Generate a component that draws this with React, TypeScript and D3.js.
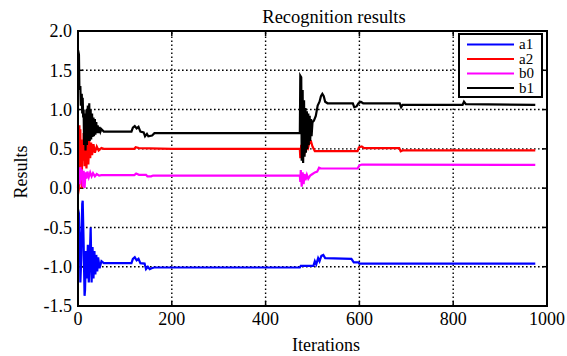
import React, { useEffect, useRef } from 'react';
import * as d3 from 'd3';

// axis ticks
const xTicks = [0, 200, 400, 600, 800, 1000];
const yTicks = [-1.5, -1.0, -0.5, 0.0, 0.5, 1.0, 1.5, 2.0];

const seriesNames = ['a1', 'a2', 'b0', 'b1'];
const seriesColors = ['#0000ff', '#ff0000', '#ff00ff', '#000000'];

// [iteration, value]
const a1Points: [number, number][] = [
  [0, -0.27], [2, -0.32], [3, -0.55], [4, -0.62], [5, -1.2], [7, -0.9], [9, -0.2], [10, -0.16],
  [12, -0.7], [14, -1.37], [15, -1.3], [17, -0.8], [19, -1.15], [21, -0.72], [23, -1.2], [25, -0.9],
  [27, -0.5], [29, -1.2], [31, -0.75], [33, -1.15], [35, -0.8], [37, -1.1], [39, -0.85], [41, -1.06],
  [43, -0.88], [46, -1.02], [50, -0.93], [55, -0.955], [114, -0.955], [117, -0.9], [121, -0.88],
  [125, -0.92], [129, -0.9], [133, -0.955], [142, -0.96], [145, -1.03], [149, -1.0], [153, -1.03],
  [157, -1.02], [162, -1.01], [473, -1.01], [475, -0.99], [502, -0.99], [505, -0.93], [508, -0.97],
  [512, -0.89], [515, -0.93], [519, -0.86], [523, -0.85], [527, -0.89], [583, -0.9], [588, -0.945],
  [598, -0.945], [600, -0.96], [975, -0.96],
];

const a2Points: [number, number][] = [
  [0, -0.08], [2, 0.0], [3, 0.8], [4, 0.05], [5, 0.75], [6, 0.1], [7, 0.62], [8, 0.0], [9, 0.5],
  [11, 0.35], [12, 0.7], [14, 0.28], [16, 0.66], [18, 0.25], [20, 0.62], [22, 0.3], [24, 0.6],
  [26, 0.38], [28, 0.58], [30, 0.42], [33, 0.56], [36, 0.45], [40, 0.53], [44, 0.48], [50, 0.51],
  [55, 0.5], [120, 0.5], [123, 0.52], [130, 0.51], [200, 0.5], [473, 0.5], [474, 0.38], [476, 0.55],
  [478, 0.42], [480, 0.5], [483, 0.45], [486, 0.52], [490, 0.5], [493, 0.57], [497, 0.59],
  [500, 0.53], [505, 0.47], [596, 0.47], [599, 0.52], [605, 0.53], [610, 0.51], [685, 0.51],
  [688, 0.47], [692, 0.48], [975, 0.48],
];

const b0Points: [number, number][] = [
  [0, 0.0], [1, 0.25], [3, 0.22], [4, 0.05], [5, 0.27], [7, 0.1], [8, 0.24], [10, 0.02], [12, 0.22],
  [14, 0.0], [16, 0.2], [18, 0.12], [20, 0.21], [23, 0.14], [26, 0.2], [29, 0.15], [32, 0.19],
  [36, 0.15], [40, 0.18], [45, 0.16], [50, 0.165], [120, 0.165], [124, 0.185], [130, 0.17],
  [145, 0.17], [148, 0.15], [156, 0.15], [160, 0.16], [473, 0.16], [474, 0.08], [475, 0.23],
  [477, 0.02], [479, 0.2], [481, 0.05], [483, 0.18], [485, 0.1], [488, 0.17], [491, 0.12],
  [495, 0.16], [500, 0.18], [505, 0.2], [510, 0.21], [514, 0.26], [518, 0.25], [596, 0.25],
  [600, 0.29], [605, 0.3], [975, 0.295],
];

const b1Points: [number, number][] = [
  [0, 1.76], [2, 1.7], [3, 1.25], [5, 1.3], [6, 1.05], [8, 1.2], [9, 0.95], [10, 1.15], [11, 0.9],
  [12, 1.0], [13, 0.55], [15, 0.95], [16, 0.48], [18, 1.0], [19, 0.55], [21, 1.05], [22, 0.6],
  [24, 1.08], [25, 0.6], [27, 1.0], [28, 0.62], [30, 0.95], [31, 0.65], [33, 0.9], [34, 0.66],
  [36, 0.88], [37, 0.68], [39, 0.84], [40, 0.7], [42, 0.8], [44, 0.7], [46, 0.78], [48, 0.72],
  [50, 0.75], [55, 0.72], [114, 0.72], [117, 0.77], [121, 0.79], [125, 0.76], [129, 0.78],
  [133, 0.72], [140, 0.71], [143, 0.66], [147, 0.69], [150, 0.66], [158, 0.67], [163, 0.7],
  [473, 0.7], [474, 1.43], [476, 1.41], [477, 0.35], [479, 1.25], [480, 0.32], [482, 1.12],
  [483, 0.4], [485, 1.02], [486, 0.45], [488, 0.98], [489, 0.5], [491, 0.95], [492, 0.55],
  [494, 0.92], [495, 0.6], [497, 0.88], [498, 0.66], [500, 0.84], [503, 0.86], [507, 0.92],
  [511, 1.05], [515, 1.1], [518, 1.17], [521, 1.2], [524, 1.17], [527, 1.1], [532, 1.08],
  [586, 1.08], [589, 1.03], [594, 1.04], [598, 1.08], [603, 1.1], [608, 1.08], [686, 1.08],
  [689, 1.03], [692, 1.06], [820, 1.06], [823, 1.1], [827, 1.07], [975, 1.06],
];

const allSeries = [a1Points, a2Points, b0Points, b1Points];

const W = 567;
const H = 356;
const margin = { left: 78, right: 20, top: 31, bottom: 50 };
const font = 'Liberation Serif, DejaVu Serif, serif';

export default function App() {
  const ref = useRef<SVGSVGElement>(null);

  useEffect(() => {
    if (!ref.current) return;
    const svg = d3.select(ref.current);
    svg.selectAll('*').remove();

    const x = d3.scaleLinear().domain([0, 1000]).range([margin.left, W - margin.right]);
    const y = d3.scaleLinear().domain([-1.5, 2.0]).range([H - margin.bottom, margin.top]);
    const [x0, x1] = x.range();
    const [y0, y1] = y.range(); // y0 bottom, y1 top

    svg.append('rect').attr('width', W).attr('height', H).attr('fill', '#fff');

    // dotted grid
    const grid = svg.append('g').attr('stroke', '#000').attr('stroke-width', 1.4)
      .attr('stroke-dasharray', '1.6,2.4');
    xTicks.slice(1, -1).forEach(t => {
      grid.append('line').attr('x1', x(t)).attr('x2', x(t)).attr('y1', y0).attr('y2', y1);
    });
    yTicks.slice(1, -1).forEach(t => {
      grid.append('line').attr('x1', x0).attr('x2', x1).attr('y1', y(t)).attr('y2', y(t));
    });

    // inward ticks
    const ticks = svg.append('g').attr('stroke', '#000').attr('stroke-width', 1.5);
    xTicks.forEach(t => {
      ticks.append('line').attr('x1', x(t)).attr('x2', x(t)).attr('y1', y0).attr('y2', y0 - 5);
      ticks.append('line').attr('x1', x(t)).attr('x2', x(t)).attr('y1', y1).attr('y2', y1 + 5);
    });
    yTicks.forEach(t => {
      ticks.append('line').attr('x1', x0).attr('x2', x0 + 5).attr('y1', y(t)).attr('y2', y(t));
      ticks.append('line').attr('x1', x1).attr('x2', x1 - 5).attr('y1', y(t)).attr('y2', y(t));
    });

    // series
    const line = d3.line<[number, number]>().x(d => x(d[0])).y(d => y(d[1]));
    allSeries.forEach((pts, i) => {
      svg.append('path')
        .datum(pts)
        .attr('fill', 'none')
        .attr('stroke', seriesColors[i])
        .attr('stroke-width', 2.2)
        .attr('d', line);
    });

    // frame
    svg.append('rect')
      .attr('x', x0).attr('y', y1).attr('width', x1 - x0).attr('height', y0 - y1)
      .attr('fill', 'none').attr('stroke', '#000').attr('stroke-width', 2);

    const txt = svg.append('g').style('font-family', font).attr('fill', '#000');

    // tick labels
    xTicks.forEach(t => {
      txt.append('text').attr('x', x(t)).attr('y', y0 + 19)
        .attr('text-anchor', 'middle').attr('font-size', 18)
        .text(String(t));
    });
    yTicks.forEach(t => {
      txt.append('text').attr('x', x0 - 6).attr('y', y(t)).attr('dy', '0.35em')
        .attr('text-anchor', 'end').attr('font-size', 18)
        .text(t.toFixed(1));
    });

    // titles
    txt.append('text').attr('x', 334).attr('y', 23).attr('text-anchor', 'middle')
      .attr('font-size', 18.5).text('Recognition results');
    txt.append('text').attr('x', 326).attr('y', 351).attr('text-anchor', 'middle')
      .attr('font-size', 18).text('Iterations');
    txt.append('text').attr('transform', 'translate(27,172) rotate(-90)').attr('text-anchor', 'middle')
      .attr('font-size', 18).text('Results');

    // legend
    const lg = svg.append('g');
    lg.append('rect').attr('x', 459).attr('y', 34).attr('width', 83).attr('height', 63)
      .attr('fill', '#fff').attr('stroke', '#000').attr('stroke-width', 2);
    seriesNames.forEach((name, i) => {
      const ly = 44.5 + i * 14.5;
      lg.append('line').attr('x1', 467).attr('x2', 514).attr('y1', ly).attr('y2', ly)
        .attr('stroke', seriesColors[i]).attr('stroke-width', 2);
      lg.append('text').attr('x', 519).attr('y', ly + 4.5).style('font-family', font)
        .attr('font-size', 15).text(name);
    });
  }, []);

  return (
    <svg ref={ref} width={W} height={H}
      style={{ position: 'absolute', left: 0, top: 0, display: 'block' }} />
  );
}
